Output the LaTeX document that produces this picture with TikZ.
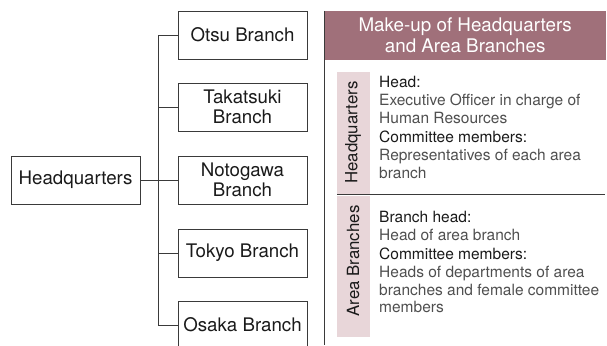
\documentclass[tikz,border=0pt]{standalone}
\usepackage{fontspec}
\setmainfont{TeX Gyre Heros}
\definecolor{hdr}{HTML}{A0707A}
\definecolor{pinkbar}{HTML}{E8D6D9}
\definecolor{lin}{HTML}{3A3A3A}
\definecolor{bodytxt}{HTML}{4F4F4F}
\definecolor{labtxt}{HTML}{1A1A1A}
\begin{document}
\begin{tikzpicture}[x=1pt,y=-1pt,
  box/.style={draw=lin, line width=0.8pt, minimum width=129pt, minimum height=48pt,
    inner sep=0pt, align=center, text=labtxt, font=\fontsize{18.7}{20.5}\selectfont},
  conn/.style={draw=lin, line width=0.8pt},
  hdrbox/.style={fill=hdr, minimum width=282pt, minimum height=49pt, inner sep=0pt,
    align=center, text=white, font=\fontsize{18.8}{21}\selectfont},
  sidebar/.style={fill=pinkbar, minimum width=33pt, inner sep=0pt},
  sidelabel/.style={rotate=90, text=labtxt, inner sep=0pt, font=\fontsize{16.8}{18}\selectfont},
  itemlab/.style={anchor=base west, inner sep=0pt, text=labtxt, font=\fontsize{15.5}{18}\selectfont},
  itembody/.style={anchor=base west, inner sep=0pt, text=bodytxt, font=\fontsize{15.5}{18}\selectfont},
  sepline/.style={draw=lin, line width=0.8pt}
]
\clip (0,0) rectangle (607,345);
% left: org chart
\node[box] (hq) at (75.5,180) {Headquarters};
\node[box] (otsu) at (242.5,35) {Otsu Branch};
\node[box] (taka) at (242.5,107) {Takatsuki\\Branch};
\node[box] (noto) at (242.5,180) {Notogawa\\Branch};
\node[box] (tokyo) at (242.5,253) {Tokyo Branch};
\node[box] (osaka) at (242.5,325) {Osaka Branch};
\draw[conn] (hq.east) -- (noto.west);
\draw[conn] (otsu.west) -- ++(-19,0) |- (osaka.west);
\draw[conn] (taka.west) -- ++(-19,0);
\draw[conn] (tokyo.west) -- ++(-19,0);
% right: panel
\node[hdrbox, anchor=north west] (head) at (324,11) {Make-up of Headquarters\\and Area Branches};
\coordinate (pbot) at (324,345);
\draw[conn] (head.north west) -- (pbot);
\node[sidebar, minimum height=122pt, anchor=north west] (hqbar) at (337,72) {};
\node[sidebar, minimum height=141pt, anchor=north west] (abbar) at (337,196) {};
\node[sidelabel] (hqlab) at (353,132.5) {Headquarters};
\node[sidelabel] (ablab) at (353,261) {Area Branches};
\coordinate (sepL) at (337,194);
\coordinate (sepR) at (605,194);
\draw[sepline] (sepL) -- (sepR);
% HQ texts
\node[itemlab] (t1) at (379,87) {Head:};
\node[itembody] (t2) at (379,105) {Executive Officer in charge of};
\node[itembody] (t3) at (379,123) {Human Resources};
\node[itemlab] (t4) at (379,142) {Committee members:};
\node[itembody] (t5) at (379,160) {Representatives of each area};
\node[itembody] (t6) at (379,178) {branch};
% Area texts
\node[itemlab] (a1) at (379,222) {Branch head:};
\node[itembody] (a2) at (379,240) {Head of area branch};
\node[itemlab] (a3) at (379,259) {Committee members:};
\node[itembody] (a4) at (379,277) {Heads of departments of area};
\node[itembody] (a5) at (379,295) {branches and female committee};
\node[itembody] (a6) at (379,312) {members};
\end{tikzpicture}
\end{document}
